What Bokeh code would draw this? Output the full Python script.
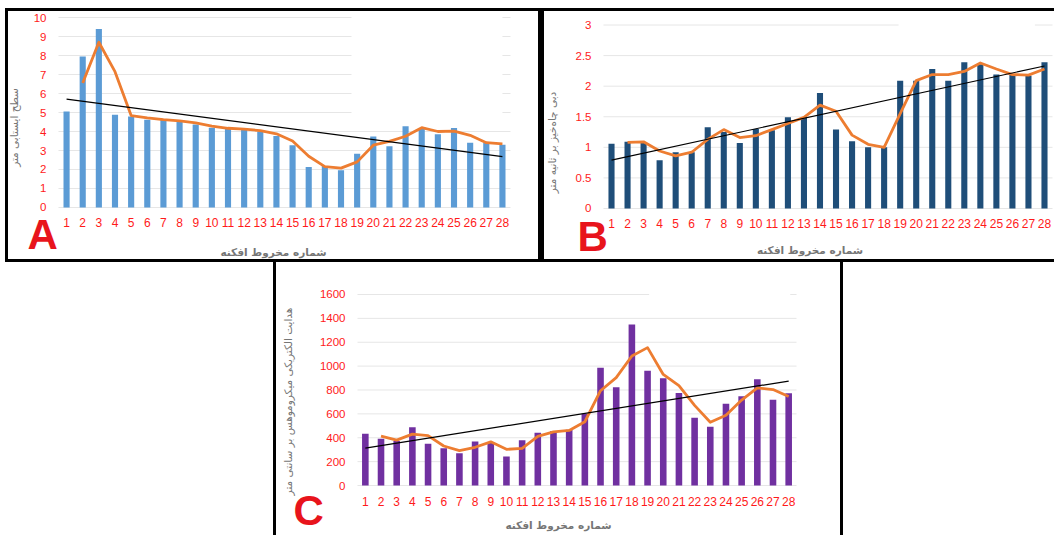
from bokeh.plotting import figure
from bokeh.models import Range1d, FixedTicker, Label, BoxAnnotation, Spacer
from bokeh.layouts import row, column
from bokeh.embed import file_html
from bokeh.resources import INLINE

# ---------------- data ----------------
cones = list(range(1, 29))
avg_x = list(range(2, 29))
trend_x = [1, 28]

a_bars = [5.05, 7.95, 9.4, 4.88, 4.79, 4.62, 4.6, 4.5, 4.37, 4.2, 4.14, 4.1, 4.0, 3.76,
          3.27, 2.13, 2.18, 1.96, 2.83, 3.74, 3.23, 4.27, 4.14, 3.85, 4.18, 3.41, 3.41, 3.3]
a_avg = [6.55, 8.7, 7.15, 4.84, 4.72, 4.62, 4.56, 4.45, 4.28, 4.17, 4.12, 4.05, 3.88,
         3.5, 2.7, 2.15, 2.07, 2.4, 3.28, 3.48, 3.75, 4.2, 4.0, 4.02, 3.8, 3.41, 3.35]
a_trend = [5.7, 2.68]

b_bars = [1.06, 1.09, 1.08, 0.79, 0.92, 0.92, 1.33, 1.25, 1.07, 1.3, 1.28, 1.49, 1.49, 1.89,
          1.29, 1.1, 1.0, 1.0, 2.09, 2.09, 2.28, 2.09, 2.39, 2.36, 2.19, 2.19, 2.17, 2.39]
b_avg = [1.08, 1.09, 0.94, 0.86, 0.92, 1.13, 1.29, 1.16, 1.19, 1.29, 1.39, 1.49, 1.69,
         1.59, 1.2, 1.05, 1.0, 1.55, 2.09, 2.19, 2.19, 2.24, 2.38, 2.28, 2.19, 2.18, 2.28]
b_trend = [0.79, 2.33]

c_bars = [434, 392, 372, 487, 350, 313, 271, 369, 364, 243, 380, 442, 456, 467,
          601, 987, 822, 1348, 962, 898, 775, 568, 492, 685, 747, 889, 719, 772]
c_avg = [413, 380, 430, 418, 331, 292, 320, 366, 303, 311, 411, 449, 461, 534, 794,
         904, 1085, 1155, 930, 836, 671, 530, 588, 716, 818, 804, 745]
c_trend = [313, 875]

y_title_a = "سطح ایستابی متر"
y_title_b = "دبی چاه‌خیز بر ثانیه متر"
y_title_c = "هدایت الکتریکی میکروموهس بر سانتی متر"
x_title = "شماره مخروط افکنه"

a_ticks = list(range(0, 11))
b_ticks = [0, 0.5, 1, 1.5, 2, 2.5, 3]
b_tick_labels = ["0", "0.5", "1", "1.5", "2", "2.5", "3"]
c_ticks = list(range(0, 1601, 200))

RED = "#FF1A1A"
LETTER_RED = "#E8141C"
GREY = "#767676"
ORANGE = "#ED7D31"
GRID = "#E6E6E6"
PFONT = "DejaVu Sans"


def panel(width, height, xr, yr, yticks, bars, avg, trend, bar_color, bar_w,
          letter, letter_pos, ytitle, ystand, xstand, gap_box, styles,
          xbounds=None, ybounds=None):
    p = figure(width=width, height=height, x_range=Range1d(*xr), y_range=Range1d(*yr),
               output_backend="svg", toolbar_location=None, title=None,
               min_border=0, min_border_left=0, min_border_right=0,
               min_border_top=0, min_border_bottom=0, styles=styles)
    p.outline_line_color = None
    p.background_fill_color = "white"
    p.border_fill_color = "white"
    p.xgrid.visible = False
    p.ygrid.visible = False
    p.xaxis.ticker = FixedTicker(ticks=cones)
    p.yaxis.ticker = FixedTicker(ticks=yticks)
    p.xaxis.fixed_location = 0
    p.yaxis.fixed_location = 0.5
    if xbounds is not None:
        p.xaxis.bounds = xbounds
    if ybounds is not None:
        p.yaxis.bounds = ybounds
    for ax in (p.xaxis, p.yaxis):
        ax.axis_line_color = None
        ax.major_tick_line_color = None
        ax.minor_tick_line_color = None
        ax.major_tick_out = 0
        ax.major_tick_in = 0
        ax.major_label_text_color = RED
        ax.major_label_text_font = "Liberation Sans"
        ax.axis_label_text_font = PFONT
        ax.axis_label_text_color = GREY
        ax.axis_label_text_font_size = "10.5px"
    p.xaxis.major_label_text_font_size = "12px"
    p.yaxis.major_label_text_font_size = "11.5px"
    p.xaxis.major_label_standoff = 11
    p.yaxis.major_label_standoff = 12
    p.yaxis.axis_label = ytitle
    p.yaxis.axis_label_text_font_style = "normal"
    p.yaxis.axis_label_standoff = ystand
    p.xaxis.axis_label = x_title
    p.xaxis.axis_label_text_font_style = "bold"
    p.xaxis.axis_label_standoff = xstand

    # horizontal gridlines limited to the plot area
    p.segment(x0=[0.5] * len(yticks), x1=[28.5] * len(yticks), y0=yticks, y1=yticks,
              line_color=GRID, line_width=1)
    if gap_box is not None:
        p.add_layout(BoxAnnotation(left=gap_box[0], right=gap_box[1], bottom=gap_box[2],
                                   top=gap_box[3], fill_color="white", fill_alpha=1.0,
                                   line_color=None))

    p.vbar(x=cones, top=bars, width=bar_w, fill_color=bar_color, line_color=None)
    p.line(avg_x, avg, line_color=ORANGE, line_width=2.8, line_join="round")
    p.line(trend_x, trend, line_color="black", line_width=1.2)

    p.add_layout(Label(x=letter_pos[0], y=letter_pos[1], text=letter,
                       text_font="Liberation Sans", text_font_style="bold",
                       text_font_size="42px", text_color=LETTER_RED,
                       text_align="left", text_baseline="alphabetic"))
    return p


box_ab = {"outline": "3px solid black", "outline-offset": "0px"}
box_c = {"outline": "3px solid black", "outline-offset": "0px",
         "clip-path": "inset(-3px -3px 0px -3px)"}

pA = panel(530, 248, (-2.597, 30.234), (-2.737, 10.316), a_ticks, a_bars, a_avg, a_trend,
           "#5B9BD5", 0.38, "A", (-1.42, -1.421), y_title_a, 11, 15,
           (18.65, 28.0, 4.5, 10.3), box_ab, ybounds=(-1.58, 10.0))

pB = panel(510, 248, (-3.179, 28.624), (-0.834, 3.221), b_ticks, b_bars, b_avg, b_trend,
           "#1F4E79", 0.38, "B", (-1.121, -0.45), y_title_b, 15, 12,
           (18.9, 27.4, 2.75, 3.2), box_ab, xbounds=(-1.9, 28.6), ybounds=(-1.0, 3.0))
pB.yaxis.major_label_overrides = {t: s for t, s in zip(b_ticks, b_tick_labels)}

pC = panel(564, 273, (-4.666, 31.305), (-418.8, 1868.0), c_ticks, c_bars, c_avg, c_trend,
           "#7030A0", 0.42, "C", (-3.582, -209.4), y_title_c, 23, 10,
           (19.1, 28.1, 1500, 1700), box_c, ybounds=(-192.6, 1600.0))

layout = column(
    Spacer(width=1054, height=11),
    row(Spacer(width=8, height=248), pA, Spacer(width=6, height=248), pB),
    Spacer(width=1054, height=3),
    row(Spacer(width=276, height=273), pC),
)

open("out.html", "w").write(file_html(layout, INLINE))
